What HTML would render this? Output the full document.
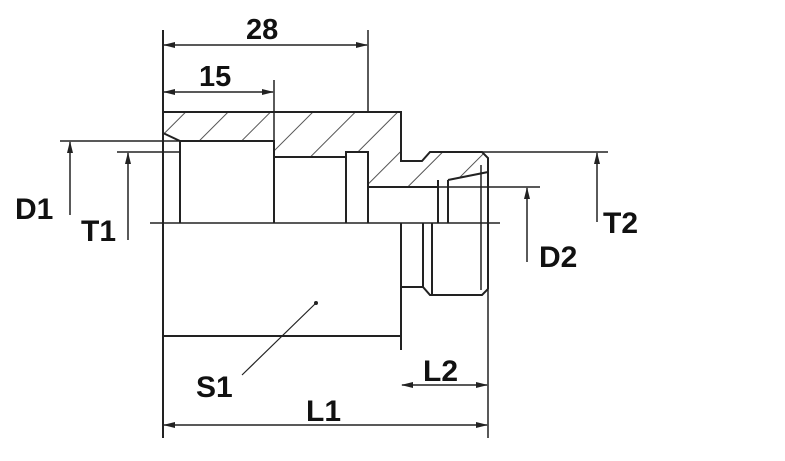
<!DOCTYPE html>
<html><head><meta charset="utf-8"><style>
html,body{margin:0;padding:0;background:#fff;}
svg{display:block;}
text{font-family:"Liberation Sans",Arial,sans-serif;font-weight:bold;fill:#111;}
</style></head><body>
<svg width="785" height="461" viewBox="0 0 785 461" xmlns="http://www.w3.org/2000/svg">
<defs>
<pattern id="h" patternUnits="userSpaceOnUse" width="30" height="30" patternTransform="rotate(45)">
<rect width="30" height="30" fill="#fff"/>
<line x1="0" y1="0" x2="0" y2="30" stroke="#555" stroke-width="2"/>
</pattern>
<marker id="a" markerWidth="12" markerHeight="8" refX="11" refY="4" orient="auto-start-reverse" markerUnits="userSpaceOnUse">
<path d="M0,1 L12,4 L0,7 Z" fill="#222"/></marker>
</defs>
<g stroke="#222" fill="none" stroke-width="2">
<path d="M163,112 H401 V161 H422 L430,152 H482 L488,158 V172 L448,180 V187 H368 V152 H346 V157 H274 V141 H180 L163,133 Z" fill="url(#h)" stroke="none"/>
<path d="M163,112 H401 V161 H422 L430,152 H482 L488,158 V172 L448,180"/>
<path d="M163,133 L180,141 H274 V157 H346 V152 H368 V187 H438"/>
<line x1="180" y1="141" x2="180" y2="223"/>
<line x1="274" y1="157" x2="274" y2="223"/>
<line x1="346" y1="152" x2="346" y2="223"/>
<line x1="368" y1="152" x2="368" y2="223"/>
<line x1="438" y1="180" x2="438" y2="223"/>
<line x1="448" y1="180" x2="448" y2="223"/>
<line x1="163" y1="30" x2="163" y2="438"/>
<line x1="163" y1="336" x2="401" y2="336"/>
<line x1="401" y1="223" x2="401" y2="350"/>
<path d="M401,287 H423 L430,295 H482 L488,289 V158"/>
<line x1="423" y1="223" x2="423" y2="287"/>
<line x1="432" y1="223" x2="432" y2="295"/>
<line x1="481" y1="165" x2="481" y2="290" stroke-width="1.5"/>
<line x1="150" y1="223" x2="500" y2="223" stroke-width="1.5"/>
<line x1="60" y1="141" x2="180" y2="141" stroke-width="1.5"/>
<line x1="117" y1="152" x2="180" y2="152" stroke-width="1.5"/>
<line x1="368" y1="187" x2="540" y2="187" stroke-width="1.5"/>
<line x1="482" y1="152" x2="608" y2="152" stroke-width="1.5"/>
<line x1="368" y1="30" x2="368" y2="112" stroke-width="1.5"/>
<line x1="274" y1="80" x2="274" y2="141" stroke-width="1.5"/>
<line x1="488" y1="290" x2="488" y2="438" stroke-width="1.5"/>
<g stroke-width="1.5">
<line x1="164" y1="45" x2="367" y2="45" marker-start="url(#a)" marker-end="url(#a)"/>
<line x1="164" y1="92" x2="273" y2="92" marker-start="url(#a)" marker-end="url(#a)"/>
<line x1="70" y1="215" x2="70" y2="142" marker-end="url(#a)"/>
<line x1="128" y1="240" x2="128" y2="153" marker-end="url(#a)"/>
<line x1="527" y1="262" x2="527" y2="188" marker-end="url(#a)"/>
<line x1="597" y1="222" x2="597" y2="153" marker-end="url(#a)"/>
<line x1="402" y1="385" x2="487" y2="385" marker-start="url(#a)" marker-end="url(#a)"/>
<line x1="164" y1="425" x2="487" y2="425" marker-start="url(#a)" marker-end="url(#a)"/>
<line x1="242" y1="375" x2="316" y2="303" stroke-width="1.2"/>
</g>
</g>
<circle cx="316" cy="303" r="2" fill="#222"/>
<text x="246" y="39" font-size="29">28</text>
<text x="199" y="86" font-size="29">15</text>
<text x="15" y="219" font-size="30">D1</text>
<text x="81" y="241" font-size="30">T1</text>
<text x="539" y="267" font-size="30">D2</text>
<text x="603" y="233" font-size="30">T2</text>
<text x="196" y="397" font-size="30">S1</text>
<text x="306" y="421" font-size="30">L1</text>
<text x="423" y="381" font-size="30">L2</text>
</svg>
</body></html>
